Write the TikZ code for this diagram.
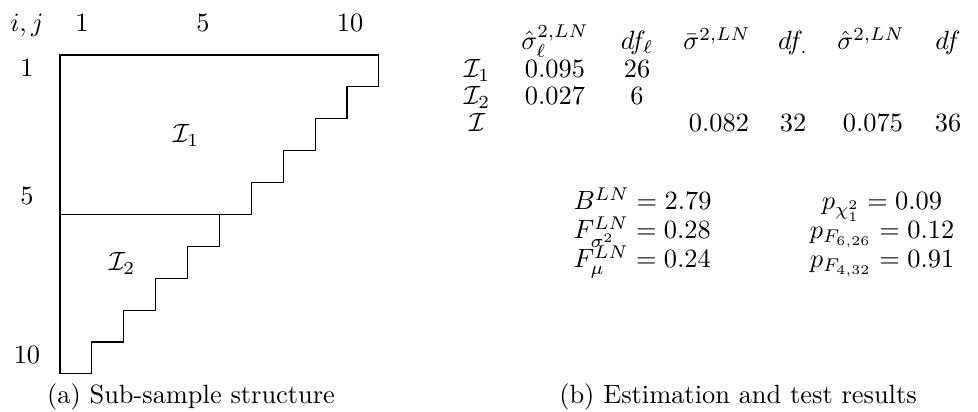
\documentclass[tikz,border=0pt]{standalone}
\usepackage{amssymb}
\usepackage{tikz}
\tikzset{>=latex}
\tikzset{lbl/.style={anchor=base, inner sep=0pt}}

\begin{document}
\begin{tikzpicture}[x=0.3788pt, y=-0.3788pt]
            \useasboundingbox (0,0) rectangle (978,412);
            % sub-sample structure
            \begin{scope}[shift={(60,55)}, x=12.08pt, y=-12.08pt]
                \draw (0,0) -- (10,0) -- (10,1) -- (9,1) -- (9,2) -- (8,2) -- (8,3) -- (7,3) -- (7,4)
                    -- (6,4) -- (6,5) -- (5,5) -- (5,6) -- (4,6) -- (4,7) -- (3,7) -- (3,8) -- (2,8)
                    -- (2,9) -- (1,9) -- (1,10) -- (0,10) -- cycle;
                \draw (0,5) -- (6,5);
            \end{scope}
            \node[lbl] (ij) at (27,32) {$i,j$};
            \node[lbl] (c1) at (82,32) {1};
            \node[lbl] (c5) at (203,32) {5};
            \node[lbl] (c10) at (350,32) {10};
            \node[lbl] (r1) at (27,77) {1};
            \node[lbl] (r5) at (27,205) {5};
            \node[lbl] (r10) at (27,363) {10};
            \node[lbl] (i1) at (186,143) {$\mathcal{I}_1$};
            \node[lbl] (i2) at (122,271) {$\mathcal{I}_2$};
            % estimation table
            \node[lbl] (hsl) at (555,50) {$\hat{\sigma}_\ell^{2,LN}$};
            \node[lbl] (hdl) at (637,50) {$df_\ell$};
            \node[lbl] (hsb) at (717,50) {$\bar{\sigma}^{2,LN}$};
            \node[lbl] (hdd) at (793,50) {$df_{.}$};
            \node[lbl] (hsh) at (871,50) {$\hat{\sigma}^{2,LN}$};
            \node[lbl] (hdf) at (948,50) {$df$};
            \node[lbl] (t1) at (477,78) {$\mathcal{I}_1$};
            \node[lbl] (t1s) at (555,78) {$0.095$};
            \node[lbl] (t1d) at (637,78) {$26$};
            \node[lbl] (t2) at (477,105) {$\mathcal{I}_2$};
            \node[lbl] (t2s) at (555,105) {$0.027$};
            \node[lbl] (t2d) at (637,105) {$6$};
            \node[lbl] (t0) at (477,132) {$\mathcal{I}$};
            \node[lbl] (t0sb) at (719,132) {$0.082$};
            \node[lbl] (t0dd) at (793,132) {$32$};
            \node[lbl] (t0sh) at (873,132) {$0.075$};
            \node[lbl] (t0df) at (948,132) {$36$};
            % test results
            \node[lbl, anchor=base west] (bst) at (573,210) {$B^{LN} = 2.79$};
            \node[lbl, anchor=base west] (fsg) at (573,239) {$F^{LN}_{\sigma^2} = 0.28$};
            \node[lbl, anchor=base west] (fmu) at (573,268) {$F^{LN}_{\mu} = 0.24$};
            \node[lbl] (pch) at (882,210) {$p_{\chi^2_1} = 0.09$};
            \node[lbl] (pf1) at (882,239) {$p_{F_{6,26}} = 0.12$};
            \node[lbl] (pf2) at (882,268) {$p_{F_{4,32}} = 0.91$};
            % captions
            \node[lbl] (capa) at (191,403) {(a) Sub-sample structure};
            \node[lbl] (capb) at (738,403) {(b) Estimation and test results};
        \end{tikzpicture}
\end{document}
